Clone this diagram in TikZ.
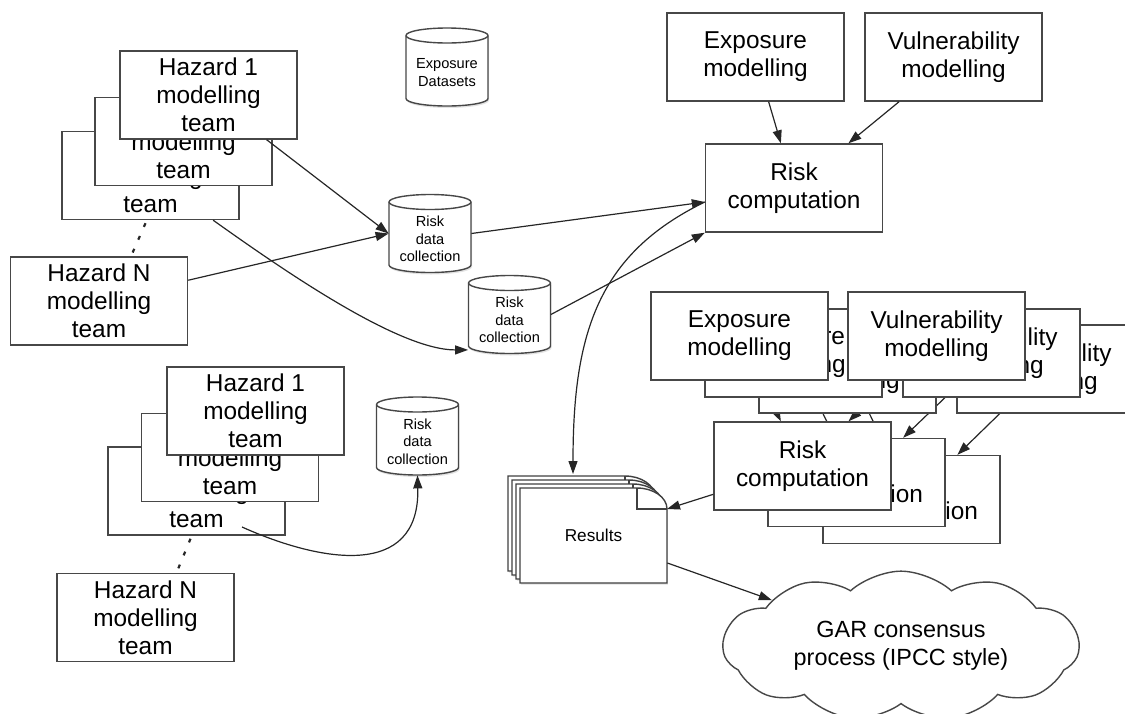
\documentclass[tikz,border=0pt]{standalone}
\usepackage{fontspec}
\setmainfont{Liberation Sans}
\usetikzlibrary{arrows.meta,shapes.symbols,calc,shadows,backgrounds}

\tikzset{
  mbox/.style={draw=black!72, line width=0.7pt, fill=white, minimum width=88.5pt,
    minimum height=44pt, inner sep=0pt, align=center,
    font=\fontsize{12.2}{14.1}\selectfont},
  cylbox/.style={minimum width=41pt, minimum height=39pt, inner sep=0pt},
  cyltext/.style={align=center, inner sep=0pt, font=\fontsize{7.3}{8.7}\selectfont},
  cylline/.style={draw=black!72, line width=0.7pt, fill=white,
    drop shadow={shadow xshift=0.5pt, shadow yshift=-1pt, opacity=0.22}},
  cyledge/.style={draw=black!72, line width=0.7pt},
  pageline/.style={draw=black!75, line width=0.7pt, fill=white,
    drop shadow={shadow xshift=0.4pt, shadow yshift=-0.8pt, opacity=0.25}},
  pageedge/.style={draw=black!75, line width=0.6pt},
  conn/.style={draw=black!85, line width=0.6pt, -{Triangle[length=6.5pt,width=4.5pt]}},
  dots/.style={draw=black!85, line width=1.1pt, dash pattern=on 2pt off 5pt},
  gcloud/.style={cloud, cloud puffs=11, cloud puff arc=85, aspect=2.5,
    draw=black!72, line width=0.7pt, fill=white, minimum width=178pt,
    minimum height=66pt, inner sep=0pt, align=center,
    font=\fontsize{11.7}{13.8}\selectfont}
}

\newcommand\dbcyl[4]{%
  \node[cylbox] (#1) at (#2,#3) {};
  \begin{scope}[shift={(#2,#3)}]
    \path[cylline] (-41,31.5) -- (-41,-31.5)
      arc[start angle=180,end angle=360,x radius=41,y radius=7.5]
      -- (41,31.5) arc[start angle=0,end angle=180,x radius=41,y radius=7.5] -- cycle;
    \draw[cyledge] (-41,31.5) arc[start angle=180,end angle=360,x radius=41,y radius=7.5];
  \end{scope}
  \node[cyltext] (#1-t) at (#2,#3-5.5) {#4};
}

\newcommand\respage[2]{%
  \begin{scope}[shift={(#1,#2)}]
    \path[pageline] (0,0) -- (117,0) .. controls (133,0) and (147,-9) .. (147,-21)
      -- (147,-95) -- (0,-95) -- cycle;
    \draw[pageedge] (117,0) -- (117,-21) -- (147,-21);
  \end{scope}}

\begin{document}
\begin{tikzpicture}[x=0.5pt,y=0.5pt]
\useasboundingbox (0,0) rectangle (1125,-713);

% ---------- top-left group ----------
\node[mbox] (H1c) at (150.5,-175.5) {Hazard 1\\modelling\\team};
\node[mbox] (H1b) at (183.5,-141.5) {Hazard 1\\modelling\\team};
\node[mbox] (H1a) at (208.5,-95) {Hazard 1\\modelling\\team};
\node[mbox] (HN) at (99,-301) {Hazard N\\modelling\\team};

\dbcyl{ExpD}{447}{-67}{Exposure\\Datasets}
\dbcyl{RDC1}{430}{-233.5}{Risk\\data\\collection}
\dbcyl{RDC2}{509.5}{-314.5}{Risk\\data\\collection}

\draw[dots] ($(H1c.south)+(-5,-3)$) -- ($(HN.north)+(32,0)$);

% ---------- top-right group ----------
\node[mbox] (Et) at (755.5,-57) {Exposure\\modelling};
\node[mbox] (Vt) at (953.5,-57) {Vulnerability\\modelling};
\node[mbox] (Rt) at (794,-188) {Risk\\computation};
\coordinate (rin) at ($(Rt.west)+(0,-14)$);

% ---------- lower-right stacks ----------
\node[mbox] (E3) at (847.5,-369) {Exposure\\modelling};
\node[mbox] (E2) at (793.5,-353) {Exposure\\modelling};
\node[mbox] (E1) at (739.5,-336) {Exposure\\modelling};
\node[mbox] (V3) at (1045.5,-369) {Vulnerability\\modelling};
\node[mbox] (V2) at (991.5,-353) {Vulnerability\\modelling};
\node[mbox] (V1) at (936.5,-336) {Vulnerability\\modelling};
\node[mbox] (R3) at (911.5,-499.5) {Risk\\computation};
\node[mbox] (R2) at (856.5,-482.5) {Risk\\computation};
\node[mbox] (R1) at (802.5,-466) {Risk\\computation};

\begin{pgfonlayer}{background}
  \draw[conn] (E3) -- (R3);
  \draw[conn] (V3) -- (R3);
  \draw[conn] (E2) -- (R2);
  \draw[conn] (V2) -- (R2);
  \draw[conn] (E1) -- (R1);
  \draw[conn] (V1) -- (R1);
\end{pgfonlayer}

% ---------- results ----------
\respage{508}{-476}
\respage{512}{-480}
\respage{516}{-484}
\respage{520}{-488}
\node[minimum width=73.5pt, minimum height=47.5pt, inner sep=0pt,
  font=\fontsize{8.6}{10}\selectfont] (res) at (593.5,-535.5) {Results};
\coordinate (restop) at (573,-474);
\coordinate (rescorner) at (667,-509);
\coordinate (resout) at ($(res.east)+(0,-27.5)$);

\node[gcloud] (gar) at (901,-646) {GAR consensus\\process (IPCC style)};

% ---------- bottom-left group ----------
\node[mbox] (H2c) at (196.5,-491) {Hazard 1\\modelling\\team};
\node[mbox] (H2b) at (230,-457.5) {Hazard 1\\modelling\\team};
\node[mbox] (H2a) at (255.5,-411) {Hazard 1\\modelling\\team};
\node[mbox] (HN2) at (145.5,-617.5) {Hazard N\\modelling\\team};
\dbcyl{RDC3}{417.5}{-436}{Risk\\data\\collection}
\coordinate (h2start) at ($(H2c)+(45.5,-36)$);

\draw[dots] ($(H2c.south)+(-6,-3)$) -- ($(HN2.north)+(31,0)$);

% ---------- connectors ----------
\draw[conn] (H1a) -- (RDC1.west);
\draw[conn] (HN) -- (RDC1.west);
\draw[conn] (H1c) .. controls (290,-275) and (400,-350) .. ($(RDC2.south west)+(0,4)$);
\draw[conn] (RDC1.east) -- (rin);
\draw[conn] (RDC2.east) -- (Rt.south west);
\draw[conn] (Et) -- (Rt);
\draw[conn] (Vt) -- (Rt);
\draw[conn] (rin) .. controls (598,-254) and (573,-333) .. (restop);
\draw[conn] (R1) -- (rescorner);
\draw[conn] (resout) -- (gar);
\draw[conn] (h2start) .. controls (320,-562) and (420,-580) .. (RDC3.south);
\end{tikzpicture}
\end{document}
